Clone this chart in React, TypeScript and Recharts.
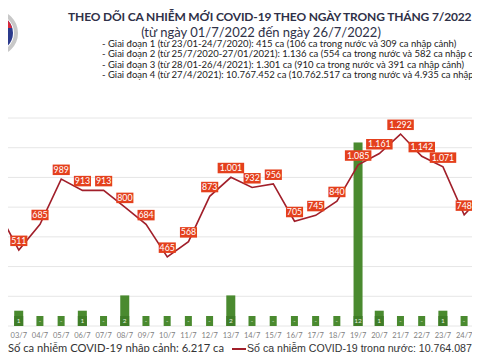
import React from 'react';
import { ComposedChart, Bar, Line, XAxis, YAxis, CartesianGrid, LabelList } from 'recharts';

// Dates visible in the (cropped) picture
const days = [
  '02/7', '03/7', '04/7', '05/7', '06/7', '07/7', '08/7', '09/7', '10/7', '11/7', '12/7', '13/7',
  '14/7', '15/7', '16/7', '17/7', '18/7', '19/7', '20/7', '21/7', '22/7', '23/7', '24/7', '25/7'
];
// Imported cases (green bars)
const importedCases = [0, 1, 0, 0, 1, 0, 2, 0, 0, 0, 0, 2, 0, 0, 0, 0, 0, 12, 1, 0, 0, 1, 0, 0];
// Domestic cases (red line)
const domesticCases = [
  780, 511, 685, 989, 913, 913, 800, 684, 465, 568, 873, 1001,
  932, 956, 705, 745, 840, 1085, 1161, 1292, 1142, 1071, 748, 900
];
const lineTicks = [0, 200, 400, 600, 800, 1000, 1200, 1400];

const stageLines = [
  '- Giai đoạn 1 (từ 23/01-24/7/2020): 415 ca (106 ca trong nước và 309 ca nhập cảnh)',
  '- Giai đoạn 2 (từ 25/7/2020-27/01/2021): 1.136 ca (554 ca trong nước và 582 ca nhập cảnh)',
  '- Giai đoạn 3 (từ 28/01-26/4/2021): 1.301 ca (910 ca trong nước và 391 ca nhập cảnh)',
  '- Giai đoạn 4 (từ 27/4/2021): 10.767.452 ca (10.762.517 ca trong nước và 4.935 ca nhập cảnh)'
];

const GREEN = '#4a8a2f';
const LINE_RED = '#a11f2a';
const LABEL_RED = '#e4401d';
const FONT = 'Lato, "Open Sans", "Noto Sans", sans-serif';

const data = days.map((day, i) => ({
  day,
  imported: importedCases[i],
  domestic: domesticCases[i]
}));

const fmt = (v: number) => v.toLocaleString('de-DE');

const LineLabel = (props: any) => {
  const { x, y, value } = props;
  const text = fmt(value);
  const w = text.length * 4.7 + 3;
  return (
    <g>
      <rect x={x - w / 2} y={y - 14.5} width={w} height={10.5} fill={LABEL_RED} />
      <text x={x} y={y - 6.3} textAnchor="middle" fill="#fff" fontSize={8.8} fontFamily={FONT}>
        {text}
      </text>
    </g>
  );
};

// bar + small value box at its foot ("-" for zero days)
const BarShape = (props: any) => {
  const { x, y, width, height, payload } = props;
  const value = payload.imported;
  const cx = x + width / 2;
  const base = y + height;
  const w = value === 0 ? 7 : width;
  return (
    <g>
      {height > 0 && <rect x={x} y={y} width={width} height={height} fill={GREEN} />}
      <rect x={cx - w / 2} y={base - 10} width={w} height={10} fill={value === 0 ? GREEN : '#3f7d27'} />
      <text x={cx} y={base - 2.8} textAnchor="middle" fill="#e8f2e0" fontSize={6.5} fontFamily={FONT}>
        {value === 0 ? '-' : value}
      </text>
    </g>
  );
};

export default function App() {
  return (
    <div
      style={{
        position: 'relative',
        width: 480,
        height: 360,
        overflow: 'hidden',
        margin: -8,
        background: '#fff',
        fontFamily: FONT
      }}
    >
      <div style={{ position: 'absolute', left: 0, top: 0, width: 480, height: 2, background: '#ececec' }} />
      <svg style={{ position: 'absolute', left: 0, top: 0 }} width={30} height={70}>
        <circle cx={-5} cy={33} r={21} fill="none" stroke="#c8c8c8" strokeWidth={4} />
        <circle cx={-5} cy={33} r={18} fill="#2b3a8c" />
        <path d="M -23 28 A 18 18 0 0 1 12 28 Z" fill="#d8283a" />
      </svg>
      <div
        style={{
          position: 'absolute',
          left: 68,
          top: 10,
          whiteSpace: 'nowrap',
          fontSize: 12,
          lineHeight: '14px',
          letterSpacing: -0.15,
          fontWeight: 'bold',
          color: '#2f3148'
        }}
      >
        THEO DÕI CA NHIỄM MỚI COVID-19 THEO NGÀY TRONG THÁNG 7/2022
      </div>
      <div
        style={{
          position: 'absolute',
          left: 140,
          top: 26,
          width: 242,
          textAlign: 'center',
          whiteSpace: 'nowrap',
          fontSize: 13,
          lineHeight: '12px',
          color: '#2f3148'
        }}
      >
        (từ ngày 01/7/2022 đến ngày 26/7/2022)
      </div>
      {stageLines.map((t, i) => (
        <div
          key={i}
          style={{
            position: 'absolute',
            left: 102,
            top: 39 + i * 10.4,
            whiteSpace: 'nowrap',
            fontSize: 9.5,
            lineHeight: '10px',
            color: '#222'
          }}
        >
          {t}
        </div>
      ))}

      <div style={{ position: 'absolute', left: -13, top: 0 }}>
        <ComposedChart
          width={509}
          height={360}
          data={data}
          margin={{ top: 118, right: 0, left: 0, bottom: 14 }}
          barCategoryGap={0}
        >
          <CartesianGrid yAxisId="line" horizontal vertical={false} stroke="#e6e6e6" />
          <XAxis
            dataKey="day"
            height={20}
            axisLine={false}
            tickLine={false}
            interval={0}
            tickMargin={1}
            tick={{ fontSize: 7.5, fill: '#808080', fontFamily: FONT }}
          />
          <YAxis yAxisId="bar" hide domain={[0, 13.6]} />
          <YAxis yAxisId="line" hide domain={[0, 1400]} ticks={lineTicks} />
          <Bar
            yAxisId="bar"
            dataKey="imported"
            fill={GREEN}
            barSize={9}
            shape={BarShape}
            isAnimationActive={false}
          />
          <Line
            yAxisId="line"
            dataKey="domestic"
            stroke={LINE_RED}
            strokeWidth={1.6}
            dot={false}
            isAnimationActive={false}
          >
            <LabelList dataKey="domestic" content={LineLabel} />
          </Line>
        </ComposedChart>
      </div>

      <div style={{ position: 'absolute', left: 0, top: 345, width: 6, height: 9, background: GREEN }} />
      <div
        style={{
          position: 'absolute',
          left: 8,
          top: 342,
          whiteSpace: 'nowrap',
          fontSize: 11.2,
          lineHeight: '12px',
          color: '#333'
        }}
      >
        Số ca nhiễm COVID-19 nhập cảnh: 6.217 ca
      </div>
      <div style={{ position: 'absolute', left: 232, top: 348, width: 14, height: 2, background: LINE_RED }} />
      <div
        style={{
          position: 'absolute',
          left: 247,
          top: 342,
          whiteSpace: 'nowrap',
          fontSize: 10.6,
          lineHeight: '12px',
          color: '#333',
          fontFamily: '"Liberation Sans", Arial, sans-serif'
        }}
      >
        Số ca nhiễm COVID-19 trong nước: 10.764.087 ca
      </div>
    </div>
  );
}
